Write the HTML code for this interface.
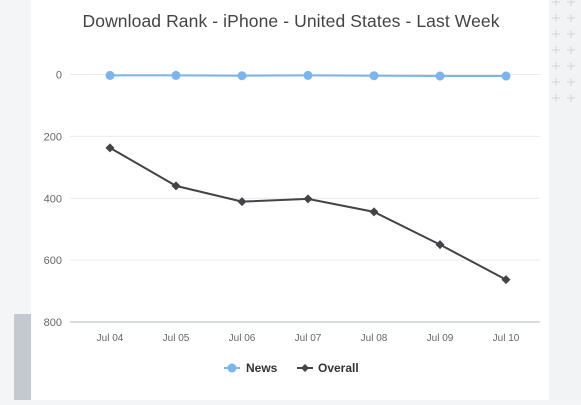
<!DOCTYPE html>
<html><head><meta charset="utf-8"><style>
body{margin:0;width:581px;height:400px;overflow:hidden;background:#f4f5f7;font-family:"Liberation Sans",sans-serif;}
#wrap{position:relative;width:581px;height:400px;}
</style></head><body>
<div id="wrap">
<svg id="chart" width="581" height="400">
  <rect x="549" y="0" width="32" height="400" fill="#f2f3f5"/>
  <g id="plus"></g>
  <rect x="14" y="314" width="17" height="86" fill="#c4c8d0"/>
  <rect x="31" y="0" width="518" height="400" fill="#ffffff"/>
  <text x="291" y="27" text-anchor="middle" font-size="17.5" fill="#444" textLength="417">Download Rank - iPhone - United States - Last Week</text>
  <g id="grid"></g><g id="series"></g>
  <g>
    <g>
      <line x1="224" y1="368" x2="240" y2="368" stroke="#7cb5ec" stroke-width="2"/>
      <circle cx="232" cy="368" r="4.5" fill="#7cb5ec"/>
      <text x="246" y="372" font-size="12" font-weight="bold" fill="#333">News</text>
    </g>
    <g>
      <line x1="297" y1="368" x2="313" y2="368" stroke="#434348" stroke-width="2"/>
      <path d="M305 364 L309 368 L305 372 L301 368Z" fill="#434348"/>
      <text x="318" y="372" font-size="12" font-weight="bold" fill="#333">Overall</text>
    </g>
  </g>
</svg>
</div>
<script>
const categories=["Jul 04","Jul 05","Jul 06","Jul 07","Jul 08","Jul 09","Jul 10"];
const newsValues=[3,3,4,3,4,5,5];
const overallValues=[237,360,411,402,444,550,663];
const yTicks=[0,200,400,600,800];
const NS="http://www.w3.org/2000/svg";
function xPos(i){return 110+i*66;}
function yPos(v){return 74.5+v*(322-74.5)/800;}
function mk(tag,attrs,parent){const e=document.createElementNS(NS,tag);for(const k in attrs)e.setAttribute(k,attrs[k]);parent.appendChild(e);return e;}
const grid=document.getElementById('grid'),ser=document.getElementById('series');
yTicks.forEach(t=>{
  const l=mk('line',{x1:70,x2:540,y1:yPos(t),y2:yPos(t),stroke:t===800?'#d8dbe3':'#ececec','stroke-width':t===800?2:1},grid);
  
  
  const tx=mk('text',{x:62,y:yPos(t)+4,'text-anchor':'end','font-size':11,fill:'#666'},grid);
  tx.textContent=t;
  
  
});
categories.forEach((c,i)=>{
  const tx=mk('text',{x:xPos(i),y:341,'text-anchor':'middle','font-size':10,fill:'#666'},grid);
  tx.textContent=c;
  
  
});
function line(vals,color,name){
  const p=mk('polyline',{points:vals.map((v,i)=>xPos(i)+','+yPos(v)).join(' '),fill:'none',stroke:color,'stroke-width':2},ser);
  
  
}
line(newsValues,'#7cb5ec','news');
line(overallValues,'#434348','overall');
newsValues.forEach((v,i)=>{
  const c=mk('circle',{cx:xPos(i),cy:yPos(v),r:4.5,fill:'#7cb5ec'},ser);
  
  
});
overallValues.forEach((v,i)=>{
  const x=xPos(i),y=yPos(v);
  const d=mk('path',{d:`M${x} ${y-4.5} L${x+4.5} ${y} L${x} ${y+4.5} L${x-4.5} ${y}Z`,fill:'#434348'},ser);
  
  
});
const plus=document.getElementById('plus');
for(let r=0;r<7;r++)for(let c=0;c<2;c++){
  const x=556+c*15,y=2+r*16;
  mk('path',{d:`M${x-4} ${y} H${x+4} M${x} ${y-4} V${y+4}`,stroke:'#d0d3d8','stroke-width':1},plus);
}
</script>
</body></html>
